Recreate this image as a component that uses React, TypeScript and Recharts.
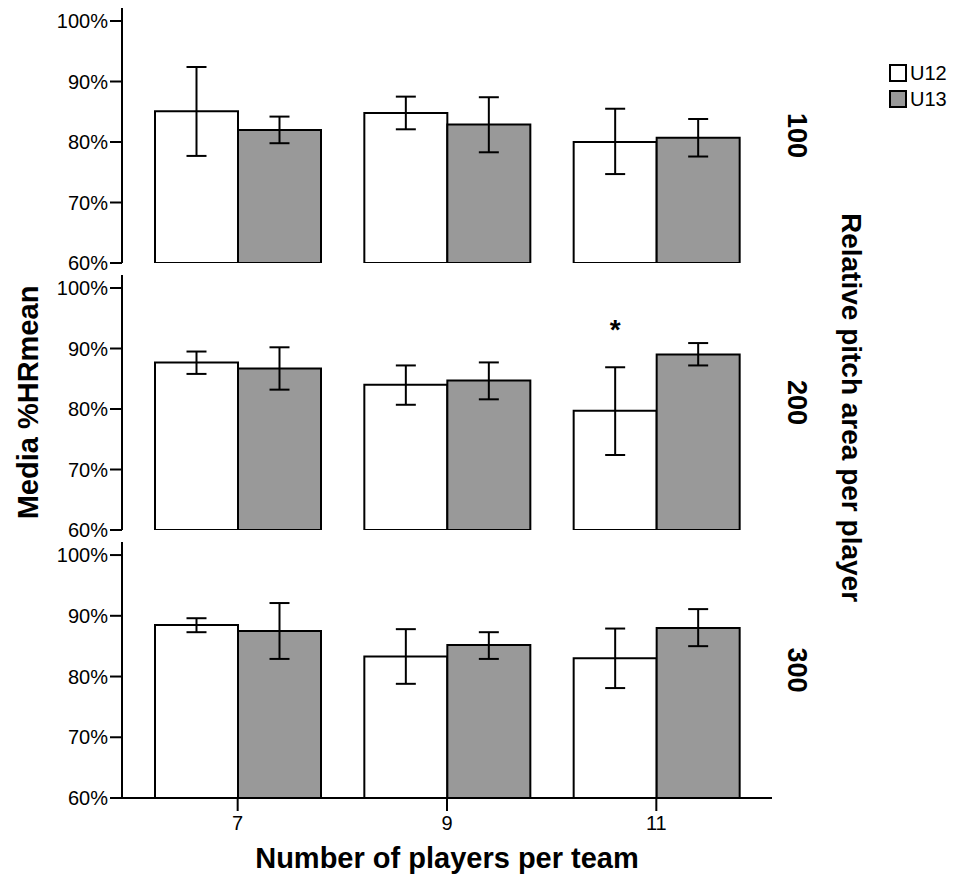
import {
  BarChart,
  Bar,
  XAxis,
  YAxis,
  ErrorBar,
  ReferenceArea,
  Legend,
  LabelList,
  Label,
} from "recharts";

const FONT = "Arial, 'Liberation Sans', Helvetica, sans-serif";

const PLAYERS = ["7", "9", "11"];
const AREAS = ["100", "200", "300"];
const Y_TICKS = [60, 70, 80, 90, 100];

// relative pitch area 100
const U12_100 = [85.1, 84.8, 80.0];
const U12_100_LO = [77.7, 82.1, 74.7];
const U12_100_HI = [92.4, 87.5, 85.5];
const U13_100 = [82.0, 82.9, 80.7];
const U13_100_LO = [79.8, 78.3, 77.6];
const U13_100_HI = [84.2, 87.4, 83.8];

// relative pitch area 200
const U12_200 = [87.7, 84.0, 79.7];
const U12_200_LO = [85.8, 80.7, 72.4];
const U12_200_HI = [89.5, 87.2, 86.9];
const U13_200 = [86.7, 84.7, 89.0];
const U13_200_LO = [83.2, 81.6, 87.2];
const U13_200_HI = [90.2, 87.7, 90.9];

// relative pitch area 300
const U12_300 = [88.5, 83.3, 83.0];
const U12_300_LO = [87.3, 78.8, 78.1];
const U12_300_HI = [89.6, 87.8, 87.9];
const U13_300 = [87.5, 85.2, 88.0];
const U13_300_LO = [82.9, 82.9, 85.0];
const U13_300_HI = [92.1, 87.3, 91.1];

// significance marks (on U12 bars)
const MARKS_100 = ["", "", ""];
const MARKS_200 = ["", "", "*"];
const MARKS_300 = ["", "", ""];

const SERIES = [
  { key: "u12", name: "U12", fill: "#ffffff" },
  { key: "u13", name: "U13", fill: "#999999" },
];

const buildRows = (
  u12: number[], u12Lo: number[], u12Hi: number[],
  u13: number[], u13Lo: number[], u13Hi: number[],
  marks: string[]
) =>
  PLAYERS.map((p, i) => ({
    players: p,
    u12: u12[i],
    u12Err: [u12[i] - u12Lo[i], u12Hi[i] - u12[i]],
    u13: u13[i],
    u13Err: [u13[i] - u13Lo[i], u13Hi[i] - u13[i]],
    mark: marks[i],
  }));

const DATA = [
  buildRows(U12_100, U12_100_LO, U12_100_HI, U13_100, U13_100_LO, U13_100_HI, MARKS_100),
  buildRows(U12_200, U12_200_LO, U12_200_HI, U13_200, U13_200_LO, U13_200_HI, MARKS_200),
  buildRows(U12_300, U12_300_LO, U12_300_HI, U13_300, U13_300_LO, U13_300_HI, MARKS_300),
];

// middle panel is taller so the rotated side titles fit inside its svg
const LAYOUT = [
  { top: 0, mt: 8, mb: 15, plot: 255, axis: 0 },
  { top: 185, mt: 90, mb: 100, plot: 255, axis: 0 },
  { top: 527, mt: 15, mb: 0, plot: 256, axis: 86 },
];

const Y_MAX = 102.15;
const TICK_FS = 20;

const YTick = ({ x, y, payload }: any) => (
  <text x={x} y={y} dy="0.36em" textAnchor="end" fontFamily={FONT} fontSize={TICK_FS} fill="#000">
    {`${payload.value}%`}
  </text>
);

const XTick = ({ x, y, payload }: any) => (
  <text x={x} y={y} dy="0.72em" textAnchor="middle" fontFamily={FONT} fontSize={TICK_FS} fill="#000">
    {payload.value}
  </text>
);

function LegendBox({ payload }: any) {
  const items = SERIES.map((s) => {
    const p = (payload || []).find((e: any) => e.dataKey === s.key);
    return { name: p?.value ?? s.name, fill: s.fill };
  });
  return (
    <div style={{ fontFamily: FONT, fontSize: 20, color: "#000" }}>
      {items.map((it) => (
        <div key={it.name} style={{ display: "flex", alignItems: "center", height: 26 }}>
          <span
            style={{
              width: 14,
              height: 14,
              border: "2px solid #000",
              background: it.fill,
              display: "inline-block",
            }}
          />
          <span style={{ marginLeft: 3, lineHeight: "18px" }}>{it.name}</span>
        </div>
      ))}
    </div>
  );
}

function Panel({ idx }: { idx: number }) {
  const lay = LAYOUT[idx];
  const height = lay.mt + lay.plot + lay.mb + lay.axis;
  const last = idx === 2;

  return (
    <div style={{ position: "absolute", left: 0, top: lay.top }}>
      <BarChart
        width={962}
        height={height}
        data={DATA[idx]}
        margin={{ top: lay.mt, right: 0, bottom: lay.mb, left: 62 }}
        barGap={0}
        barCategoryGap={22}
      >
        <XAxis
          dataKey="players"
          hide={!last}
          height={lay.axis || 30}
          padding={{ left: 11, right: 11 }}
          tick={<XTick />}
          tickSize={13}
          tickMargin={5}
          tickLine={{ stroke: "#000", strokeWidth: 2 }}
          axisLine={{ stroke: "#000", strokeWidth: 2 }}
        >
          {last && (
            <Label
              content={({ viewBox }: any) => (
                <text
                  x={viewBox.x + viewBox.width / 2}
                  y={viewBox.y + 70}
                  textAnchor="middle"
                  fontFamily={FONT}
                  fontSize={29}
                  fontWeight="bold"
                  fill="#000"
                >
                  Number of players per team
                </text>
              )}
            />
          )}
        </XAxis>
        <YAxis
          width={60}
          type="number"
          domain={[60, Y_MAX]}
          allowDataOverflow
          ticks={Y_TICKS}
          tick={<YTick />}
          tickSize={12}
          tickMargin={2}
          tickLine={{ stroke: "#000", strokeWidth: 2 }}
          axisLine={{ stroke: "#000", strokeWidth: 2 }}
        >
          {idx === 1 && (
            <Label
              content={({ viewBox }: any) => {
                const x = 38;
                const y = viewBox.y + viewBox.height / 2;
                return (
                  <text
                    x={x}
                    y={y}
                    transform={`rotate(-90, ${x}, ${y})`}
                    textAnchor="middle"
                    fontFamily={FONT}
                    fontSize={29}
                    fontWeight="bold"
                    fill="#000"
                  >
                    Media %HRmean
                  </text>
                );
              }}
            />
          )}
        </YAxis>
        <YAxis
          yAxisId="r"
          orientation="right"
          width={190}
          type="number"
          domain={[60, Y_MAX]}
          tick={false}
          tickLine={false}
          axisLine={false}
        >
          <Label
            content={({ viewBox }: any) => {
              const x = viewBox.x + 16;
              const y = viewBox.y + viewBox.height / 2;
              const tx = viewBox.x + 70;
              const ty = y + 5;
              return (
                <g>
                  <text
                    x={x}
                    y={y}
                    transform={`rotate(90, ${x}, ${y})`}
                    textAnchor="middle"
                    fontFamily={FONT}
                    fontSize={27}
                    fontWeight="bold"
                    fill="#000"
                  >
                    {AREAS[idx]}
                  </text>
                  {idx === 1 && (
                    <text
                      x={tx}
                      y={ty}
                      transform={`rotate(90, ${tx}, ${ty})`}
                      textAnchor="middle"
                      fontFamily={FONT}
                      fontSize={28}
                      fontWeight="bold"
                      fill="#000"
                    >
                      Relative pitch area per player
                    </text>
                  )}
                </g>
              );
            }}
          />
        </YAxis>
        <ReferenceArea fill="none" stroke="#222" strokeWidth={1.5} ifOverflow="visible" />
        {SERIES.map((s) => (
          <Bar
            key={s.key}
            dataKey={s.key}
            name={s.name}
            fill={s.fill}
            stroke="#000"
            strokeWidth={2}
            isAnimationActive={false}
          >
            <ErrorBar
              dataKey={`${s.key}Err`}
              width={10}
              stroke="#000"
              strokeWidth={2}
              direction="y"
              isAnimationActive={false}
            />
            {s.key === "u12" && (
              <LabelList
                dataKey="mark"
                content={(p: any) =>
                  p.value ? (
                    <text
                      x={p.x + p.width / 2}
                      y={p.y - 72}
                      textAnchor="middle"
                      fontFamily={FONT}
                      fontSize={28}
                      fontWeight="bold"
                      fill="#000"
                    >
                      {p.value}
                    </text>
                  ) : null
                }
              />
            )}
          </Bar>
        ))}
        {idx === 0 && (
          <Legend
            layout="vertical"
            align="center"
            verticalAlign="middle"
            content={LegendBox}
            wrapperStyle={{ position: "absolute", left: 889, top: 60, width: 70 }}
          />
        )}
      </BarChart>
    </div>
  );
}

export default function App() {
  return (
    <div
      style={{
        position: "absolute",
        left: 0,
        top: 0,
        width: 962,
        height: 884,
        background: "#fff",
        fontFamily: FONT,
      }}
    >
      <Panel idx={0} />
      <Panel idx={1} />
      <Panel idx={2} />
    </div>
  );
}
